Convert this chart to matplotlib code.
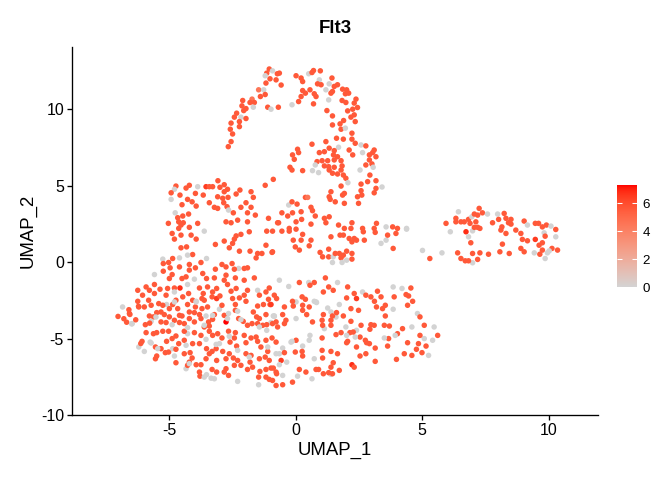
import numpy as np
import matplotlib
matplotlib.use("Agg")
import matplotlib.pyplot as plt
from matplotlib.colors import ListedColormap, Normalize

plt.rcParams["font.family"] = ["Liberation Sans", "DejaVu Sans"]
plt.rcParams["axes.unicode_minus"] = False

upper_arc = [
    (-1.05, 12.64, 5.6), (-1.15, 12.37, 5.6), (-1.21, 12.20, 0), (-0.92, 12.52, 0), (-0.73, 12.33, 5.6),
    (-1.02, 12.0, 5.6), (-0.78, 11.93, 5.6), (-1.18, 11.72, 5.6), (-1.47, 11.28, 4.5), (-1.27, 11.28, 0),
    (-1.21, 10.97, 5.6), (-1.40, 10.84, 5.6), (-1.73, 10.67, 4.5), (-1.64, 10.45, 5.6), (-1.81, 10.45, 5.6),
    (-2.10, 10.58, 5.6), (-2.13, 10.23, 5.6), (-1.97, 10.05, 5.6), (-1.68, 10.14, 0), (-2.06, 9.92, 5.6),
    (-2.34, 9.75, 5.6), (-1.11, 10.14, 5.6), (-0.98, 10.01, 0), (-0.69, 10.14, 5.6), (-2.17, 9.49, 0),
    (-2.43, 9.49, 5.6), (-2.23, 9.2, 5.6), (-1.97, 9.4, 5.6), (-2.56, 9.1, 5.6), (-2.23, 8.87, 5.6),
    (-2.59, 8.7, 5.6), (-2.50, 8.39, 5.6), (-2.56, 7.89, 5.6), (-2.67, 7.56, 5.6),
    (-0.65, 12.37, 5.6), (-0.58, 11.59, 5.6), (0.01, 12.20, 5.6), (0.21, 12.05, 5.6), (0.27, 11.82, 5.6),
    (0.51, 12.33, 0), (0.64, 12.41, 5.6), (0.70, 12.54, 5.6), (0.97, 12.52, 5.6), (1.43, 12.05, 5.6),
    (0.93, 11.93, 0), (0.86, 11.67, 5.6), (1.0, 11.61, 5.6), (1.32, 11.67, 0), (1.52, 11.50, 5.6),
    (1.65, 11.61, 5.6), (1.85, 11.32, 5.6), (2.01, 11.28, 5.6), (1.19, 11.28, 0), (1.45, 11.17, 5.6),
    (1.39, 11.06, 5.6), (1.96, 11.02, 5.6), (2.09, 11.06, 5.6), (0.27, 11.23, 5.6), (0.38, 11.06, 5.6),
    (0.56, 11.28, 5.6), (0.21, 10.84, 5.6), (0.73, 11.02, 5.6), (0.80, 10.84, 5.6), (0.11, 10.51, 5.6),
    (-0.15, 10.30, 0), (0.70, 10.36, 5.6), (1.30, 10.62, 0), (1.83, 10.58, 5.6), (1.98, 10.45, 5.6),
    (2.38, 10.67, 5.6), (2.31, 10.41, 5.6), (2.44, 10.12, 5.6), (2.25, 10.01, 5.6), (2.05, 9.90, 5.6),
    (1.23, 9.92, 5.6), (2.31, 9.64, 5.6), (2.18, 9.49, 5.6), (2.35, 9.2, 5.6), (1.45, 9.57, 5.6),
    (1.89, 9.27, 5.6), (1.75, 9.05, 5.6), (1.45, 8.98, 5.6), (1.79, 8.70, 5.6), (1.96, 8.77, 0),
    (2.22, 8.44, 5.6), (1.88, 8.05, 5.6), (2.22, 8.05, 5.6), (1.61, 8.11, 5.6), (2.35, 7.78, 5.6),
]

mid_upper = [
    (1.19, 7.89, 5.6), (0.64, 7.72, 5.6), (2.58, 7.67, 0), (2.77, 7.61, 5.6), (2.11, 7.34, 5.6),
    (1.69, 7.52, 0), (1.32, 7.46, 5.6), (1.52, 7.30, 5.6), (1.13, 7.23, 5.6), (0.93, 7.17, 5.6),
    (0.07, 7.39, 5.6), (0.11, 7.17, 5.6), (-0.13, 7.02, 5.6), (-0.06, 6.73, 5.6), (2.25, 7.02, 5.6),
    (2.64, 7.17, 0), (2.91, 7.02, 5.6), (3.10, 7.34, 5.6), (3.04, 7.17, 5.6), (3.17, 6.9, 5.6),
    (2.91, 6.69, 5.6), (3.01, 6.43, 5.6), (2.77, 6.36, 5.6), (3.06, 6.21, 0), (2.54, 6.03, 0),
    (2.93, 5.70, 5.6), (3.17, 5.33, 5.6), (2.84, 5.27, 5.6), (2.58, 5.11, 5.6), (3.17, 4.83, 5.6),
    (3.41, 4.92, 0), (3.10, 4.54, 5.6), (2.58, 4.68, 5.6), (2.44, 4.28, 5.6), (2.61, 4.39, 5.6),
    (2.48, 3.85, 5.6), (1.49, 7.02, 5.6), (1.79, 6.64, 5.6), (1.65, 6.9, 5.6), (1.52, 6.69, 5.6),
    (1.26, 6.64, 5.6), (1.13, 6.30, 5.6), (1.30, 6.25, 5.6), (1.52, 6.21, 5.6), (1.04, 6.64, 5.6),
    (0.84, 6.58, 5.6), (0.77, 6.36, 0), (0.66, 5.99, 0), (0.90, 5.86, 0), (1.32, 6.03, 5.6),
    (1.45, 5.82, 5.6), (1.65, 5.77, 5.6), (1.79, 6.03, 5.6), (1.83, 6.30, 5.6), (1.88, 5.70, 5.6),
    (1.98, 5.49, 5.6), (2.06, 5.20, 0), (1.79, 4.98, 5.6), (1.92, 4.50, 5.6), (1.85, 4.39, 5.6),
    (1.39, 4.61, 5.6), (1.32, 4.28, 5.6), (1.36, 4.11, 5.6), (1.56, 3.95, 5.6), (1.92, 3.85, 5.6),
    (-0.23, 6.21, 5.6), (-0.15, 6.03, 5.6), (0.27, 5.99, 5.6), (-0.89, 5.42, 5.6), (-1.21, 5.03, 5.6),
]

center_band = [
    (0.38, 4.24, 5.6), (0.47, 4.24, 4.5), (-0.28, 3.74, 0), (-0.15, 3.95, 5.6), (0.05, 3.80, 5.6),
    (0.60, 3.59, 5.6), (0.66, 3.37, 5.6), (-0.55, 3.23, 5.6), (-0.32, 3.02, 5.6), (-0.13, 3.23, 5.6),
    (0.21, 3.30, 5.6), (0.01, 2.64, 5.6), (0.23, 2.80, 5.6), (-0.68, 2.58, 5.6), (0.77, 3.02, 5.6),
    (1.13, 2.87, 5.6), (1.32, 2.97, 5.6), (1.19, 2.58, 5.6), (0.60, 2.49, 5.6), (-0.26, 2.21, 5.6),
    (1.69, 2.43, 5.6), (2.22, 2.58, 5.6), (1.92, 2.21, 5.6), (2.18, 2.21, 5.6), (2.64, 2.21, 5.6),
    (3.19, 2.54, 5.6), (3.10, 2.21, 5.6), (3.57, 2.31, 0), (3.83, 2.31, 5.6), (4.02, 2.21, 5.6),
    (4.38, 2.21, 0), (-0.92, 2.03, 5.6), (-0.55, 2.03, 5.6), (-0.26, 2.03, 5.6), (0.01, 2.16, 5.6),
    (0.27, 1.82, 5.6), (-0.10, 1.44, 5.6), (0.21, 1.44, 5.6), (-0.02, 1.0, 5.6), (0.14, 0.79, 5.6),
    (0.53, 1.07, 5.6), (0.60, 1.44, 5.6), (-0.94, 0.64, 5.6), (0.96, 0.64, 5.6), (1.06, 0.35, 5.6),
    (1.30, 0.85, 5.6), (1.30, 0.35, 5.6), (1.48, 0.35, 0), (1.56, 0.57, 5.6), (1.72, 0.57, 5.6),
    (1.79, 0.28, 5.6), (1.88, 0.46, 5.6), (2.01, 0.13, 0), (1.83, -0.02, 0), (1.45, -0.02, 0),
    (2.01, 0.72, 5.6), (2.22, 0.57, 5.6), (2.22, 0.20, 5.6), (1.39, 1.66, 5.6), (1.75, 1.77, 5.6),
    (1.88, 1.77, 5.6), (2.11, 1.55, 5.6), (2.31, 1.55, 5.6), (2.22, 1.33, 5.6), (2.40, 1.44, 5.6),
    (2.71, 1.44, 5.6), (2.67, 1.99, 5.6), (3.14, 1.95, 5.6), (3.37, 1.23, 0), (3.57, 1.44, 0),
    (3.63, 1.77, 5.6), (3.96, 1.88, 5.6), (4.38, 2.16, 0), (3.85, 0.90, 5.6), (5.01, 0.77, 0),
    (5.30, 0.24, 5.6),
]

left_top = [
    (-3.08, 5.33, 5.6), (-3.55, 4.94, 6.5), (-3.42, 4.94, 5.6), (-3.29, 4.94, 5.6), (-3.88, 4.94, 0),
    (-4.21, 5.03, 5.6), (-4.34, 4.85, 5.6), (-4.74, 4.98, 5.6), (-4.80, 4.77, 0), (-4.93, 4.54, 5.6),
    (-4.93, 4.11, 0), (-4.58, 4.39, 5.6), (-3.97, 4.50, 5.6), (-3.66, 4.39, 5.6), (-4.28, 4.11, 5.6),
    (-4.10, 3.95, 5.6), (-3.94, 3.67, 5.6), (-4.50, 3.76, 5.6), (-3.42, 3.89, 5.6), (-3.0, 4.9, 5.6),
    (-2.83, 5.07, 5.6), (-2.70, 4.77, 5.6), (-2.83, 4.61, 5.6), (-3.09, 4.28, 5.6), (-2.89, 4.18, 5.6),
    (-2.68, 4.24, 5.6), (-2.85, 3.89, 5.6), (-2.72, 3.63, 5.6), (-3.09, 3.52, 5.6), (-3.22, 3.59, 5.6),
    (-2.36, 4.46, 5.6), (-2.21, 4.72, 5.6), (-1.77, 4.61, 5.6), (-1.68, 4.24, 5.6), (-1.97, 3.89, 5.6),
    (-1.77, 3.59, 5.6), (-2.17, 3.59, 5.6), (-1.91, 3.23, 5.6), (-1.60, 3.08, 5.6), (-2.66, 3.41, 0),
    (-2.47, 3.23, 5.6), (-2.76, 2.64, 5.6), (-2.56, 2.58, 5.6), (-2.30, 2.75, 5.6), (-1.91, 2.64, 5.6),
    (-1.08, 2.87, 5.6), (-0.72, 2.58, 5.6), (-4.77, 3.23, 0), (-4.47, 3.02, 5.6), (-4.67, 2.91, 5.6),
    (-4.24, 3.15, 5.6), (-4.45, 2.58, 5.6), (-4.63, 2.64, 5.6), (-4.54, 2.43, 5.6), (-5.04, 2.54, 5.6),
    (-4.21, 2.28, 5.6), (-3.88, 2.54, 5.6), (-4.63, 2.21, 5.6), (-4.89, 1.88, 5.6), (-4.54, 1.77, 5.6),
    (-4.80, 1.51, 5.6), (-4.14, 1.77, 5.6), (-3.94, 1.51, 5.6), (-3.62, 2.03, 0), (-4.54, 0.94, 5.6),
    (-4.32, 1.0, 5.6), (-4.08, 0.50, 5.6), (-4.28, 0.46, 0), (-4.60, 0.28, 0), (-4.87, 0.24, 5.6),
    (-5.26, 0.20, 0), (-5.03, -0.02, 5.6), (-4.97, -0.37, 5.6), (-5.24, -0.09, 5.6), (-3.53, 0.24, 0),
    (-3.75, -0.02, 5.6), (-4.21, -0.15, 5.6), (-3.97, -0.37, 5.6), (-4.60, -0.31, 5.6), (-4.21, -0.52, 5.6),
    (-3.18, 1.16, 5.6), (-2.83, 1.38, 5.6), (-2.50, 1.23, 5.6), (-2.23, 0.72, 5.6), (-2.43, 1.51, 5.6),
    (-2.36, 1.72, 5.6), (-2.17, 1.82, 5.6), (-2.63, 0.94, 5.6), (-1.81, 0.72, 5.6), (-1.51, 0.57, 5.6),
    (-1.34, 0.57, 5.6), (-1.57, 0.28, 5.6), (-1.18, 1.11, 5.6), (-0.92, 0.68, 5.6), (-1.84, 1.99, 5.6),
    (-1.15, 2.03, 5.6),
]

lower_left = [
    (-4.34, -0.96, 5.6), (-4.01, -1.11, 0), (-4.28, -1.46, 0), (-4.50, -1.07, 5.6), (-5.0, -1.07, 5.6),
    (-4.89, -0.81, 5.6), (-5.24, -0.59, 5.6), (-5.59, -0.81, 0), (-5.92, -1.62, 5.6), (-5.59, -1.46, 5.6),
    (-5.79, -1.84, 5.6), (-6.06, -2.16, 5.6), (-6.25, -1.84, 5.6), (-6.25, -2.56, 5.6), (-6.21, -2.93, 5.6),
    (-6.58, -3.36, 5.6), (-6.47, -4.02, 0), (-5.37, -1.77, 5.6), (-5.07, -1.72, 5.6), (-4.80, -1.69, 5.6),
    (-4.58, -1.69, 6.8), (-5.13, -2.16, 5.6), (-5.59, -2.05, 5.6), (-5.42, -2.71, 5.6), (-5.82, -2.49, 5.6),
    (-5.11, -2.77, 0), (-4.74, -2.49, 5.6), (-4.47, -2.27, 5.6), (-4.24, -2.05, 5.6), (-4.80, -1.95, 0),
    (-4.08, -2.49, 5.6), (-3.94, -2.56, 0), (-4.28, -2.77, 5.6), (-3.81, -1.69, 5.6), (-3.66, -2.05, 5.6),
    (-3.71, -2.38, 5.6), (-3.49, -1.62, 5.6), (-3.29, -1.95, 5.6), (-3.31, -2.27, 5.6), (-3.13, -2.38, 6.5),
    (-3.49, -2.93, 5.6), (-3.71, -3.04, 5.6), (-3.81, -3.43, 5.6), (-3.75, -3.69, 5.6), (-3.55, -3.52, 0),
    (-3.22, -3.43, 5.6), (-3.29, -3.74, 5.6), (-3.45, -3.91, 5.6), (-3.02, -3.08, 0), (-2.83, -3.48, 5.6),
    (-2.66, -3.36, 0), (-2.76, -3.91, 7.3), (-2.92, -2.82, 5.6), (-3.0, -2.21, 5.6), (-2.83, -1.18, 5.6),
    (-2.92, -0.15, 5.6), (-2.76, -0.31, 5.6), (-2.52, -0.09, 5.6), (-3.18, -0.46, 5.6), (-3.22, -1.03, 5.6),
    (-3.53, -1.07, 5.6), (-3.68, -0.74, 5.6), (-3.13, -1.72, 5.6), (-2.70, -1.46, 5.6), (-2.76, -0.85, 5.6),
    (-2.39, -1.03, 5.6), (-2.26, -0.41, 0), (-2.43, -0.46, 5.6), (-2.04, -0.41, 5.6), (-1.91, -0.37, 5.6),
    (-1.64, -1.03, 5.6), (-2.04, -1.18, 5.6), (-2.56, -1.90, 5.6), (-2.36, -1.72, 5.6), (-2.50, -2.38, 5.6),
    (-2.23, -2.34, 5.6), (-2.04, -2.16, 5.6), (-1.97, -2.56, 5.6), (-2.39, -2.77, 5.6), (-2.39, -3.15, 5.6),
    (-1.91, -1.84, 5.6), (-1.51, -1.84, 0), (-1.44, -2.16, 5.6), (-1.18, -1.95, 5.6), (-1.02, -2.77, 5.6),
    (-1.08, -2.43, 5.6), (-1.28, -2.77, 5.6), (-1.51, -2.87, 5.6), (-1.68, -3.26, 5.6), (-1.55, -3.58, 5.6),
    (-1.44, -3.69, 5.6), (-1.18, -3.43, 5.6), (-0.89, -3.52, 0), (-0.78, -3.91, 5.6), (-0.98, -3.95, 0),
    (-1.15, -4.09, 5.6), (-1.31, -4.13, 5.6), (-1.51, -4.02, 5.6), (-1.73, -4.02, 5.6), (-1.91, -4.13, 5.6),
    (-2.08, -3.87, 5.6), (-2.30, -3.21, 0), (-2.26, -3.69, 5.6), (-2.66, -4.52, 5.6), (-2.39, -4.61, 5.6),
    (-2.43, -4.96, 5.6), (-2.04, -4.79, 5.6), (-1.97, -5.27, 5.6), (-1.77, -4.96, 5.6), (-1.57, -4.90, 5.6),
    (-1.51, -5.18, 5.6), (-1.38, -5.55, 5.6), (-1.18, -5.11, 5.6), (-0.94, -4.96, 5.6), (-0.78, -5.23, 5.6),
    (-0.78, -5.99, 0), (-1.11, -5.84, 5.6), (-1.21, -6.21, 5.6), (-1.44, -6.32, 5.6), (-1.05, -6.43, 5.6),
    (-0.89, -6.93, 5.6), (-1.18, -7.02, 5.6), (-1.42, -7.15, 5.6), (-1.47, -7.52, 5.6), (-1.18, -7.52, 5.6),
    (-1.05, -7.67, 5.6), (-1.47, -8.02, 0), (-0.92, -7.74, 5.6), (-2.30, -7.80, 0), (-1.91, -7.02, 5.6),
    (-1.81, -6.54, 5.6), (-1.71, -6.87, 5.6), (-2.17, -6.75, 5.6), (-2.43, -6.75, 5.6), (-2.76, -6.97, 5.6),
    (-2.83, -7.19, 5.6), (-2.66, -7.41, 5.6), (-3.13, -7.19, 5.6), (-3.31, -7.02, 5.6), (-3.53, -7.36, 0),
    (-3.35, -7.59, 0), (-3.81, -7.19, 5.6), (-3.79, -7.46, 5.6), (-3.94, -6.71, 5.6), (-3.75, -6.71, 5.6),
    (-3.55, -6.32, 5.6), (-3.42, -5.99, 5.6), (-3.53, -5.66, 5.6), (-3.13, -6.43, 5.6), (-3.15, -5.66, 5.6),
    (-3.02, -5.33, 0), (-3.31, -5.84, 5.6), (-2.89, -5.84, 5.6), (-2.76, -6.32, 5.6), (-2.92, -4.96, 5.6),
    (-3.09, -4.68, 5.6), (-3.29, -4.79, 5.6), (-3.55, -5.05, 0), (-3.75, -4.79, 5.6), (-3.81, -5.33, 5.6),
    (-4.01, -4.61, 5.6), (-4.28, -4.68, 0), (-4.41, -4.52, 5.6), (-4.41, -5.11, 5.6), (-4.08, -5.33, 5.6),
    (-4.63, -5.33, 5.6), (-4.74, -4.83, 5.6), (-4.89, -5.0, 5.6), (-5.11, -5.18, 5.6), (-5.03, -4.52, 5.6),
    (-5.26, -4.52, 5.6), (-5.50, -4.61, 5.6), (-5.63, -4.68, 5.6), (-5.92, -4.61, 5.6), (-6.08, -5.18, 5.6),
    (-5.76, -5.23, 0), (-6.21, -5.55, 0), (-5.99, -5.84, 0), (-5.55, -5.55, 5.6), (-5.33, -5.66, 5.6),
    (-5.16, -5.92, 5.6), (-5.50, -6.14, 5.6), (-5.55, -6.32, 5.6), (-5.03, -5.88, 5.6), (-4.87, -5.66, 0),
    (-4.80, -6.14, 0), (-4.74, -6.58, 5.6), (-4.74, -5.70, 5.6), (-4.41, -5.99, 5.6), (-4.18, -5.92, 5.6),
    (-4.21, -6.54, 5.6), (-4.10, -6.27, 5.6), (-4.34, -6.97, 0), (-4.28, -6.75, 5.6), (-4.50, -3.52, 5.6),
    (-4.41, -4.02, 5.6), (-4.60, -3.95, 5.6), (-4.80, -3.80, 5.6), (-5.0, -3.58, 5.6), (-5.20, -3.43, 5.6),
    (-5.50, -3.30, 5.6), (-5.63, -3.58, 5.6), (-5.79, -3.52, 5.6), (-5.95, -4.09, 5.6), (-5.72, -3.87, 0),
    (-5.33, -3.91, 5.6), (-5.13, -3.95, 5.6), (-4.89, -4.09, 0), (-4.87, -2.77, 5.6), (-4.67, -3.04, 5.6),
    (-4.21, -3.26, 5.6), (-4.01, -3.30, 5.6), (-3.97, -2.93, 5.6), (-4.21, -3.69, 5.6), (-4.01, -3.91, 5.6),
    (-4.60, -3.48, 5.6), (-5.0, -3.04, 5.6), (-5.26, -2.82, 5.6), (-5.33, -3.26, 5.6), (-5.72, -2.82, 5.6),
    (-5.99, -2.93, 5.6), (-3.62, -2.49, 5.6), (-2.30, -6.43, 5.6), (-1.77, -6.10, 5.6), (-1.97, -5.99, 5.6),
    (-2.63, -5.99, 5.6), (-2.47, -6.27, 5.6), (-0.78, -7.19, 5.6), (-2.34, -5.49, 5.6), (-2.60, -5.23, 5.6),
    (-2.30, -5.77, 0), (-3.42, -4.18, 5.6), (-3.62, -4.24, 5.6), (-3.42, -4.52, 5.6),
    (-7.03, -3.55, 5.6), (-6.80, -3.70, 5.6), (-6.85, -2.93, 0), (-6.60, -3.11, 5.6), (-6.69, -3.93, 5.6),
    (-6.49, -4.04, 0), (-6.56, -3.42, 5.6), (-6.33, -3.77, 5.6), (-6.13, -5.32, 5.6), (-5.78, -3.99, 5.6),
    (-6.22, -2.89, 5.6),
]

lower_right = [
    (-0.65, -1.18, 0), (0.14, -1.33, 5.6), (-0.28, -1.59, 0), (0.51, -1.33, 0), (0.56, -1.51, 5.6),
    (0.73, -1.33, 5.6), (1.17, -1.03, 5.6), (1.30, -1.62, 5.6), (1.48, -1.84, 5.6), (1.09, -1.95, 5.6),
    (1.65, -1.33, 0), (2.05, -1.62, 5.6), (2.31, -2.05, 5.6), (2.40, -2.38, 6.5), (2.64, -1.95, 0),
    (2.77, -2.16, 5.6), (2.97, -2.27, 5.6), (3.23, -1.90, 5.6), (3.37, -2.27, 5.6), (3.85, -1.62, 0),
    (3.89, -2.27, 5.6), (4.20, -1.72, 0), (4.36, -2.12, 5.6), (4.55, -1.69, 5.6), (4.46, -2.21, 5.6),
    (4.62, -2.56, 5.6), (4.42, -2.82, 5.6), (-1.05, -1.69, 5.6), (-0.85, -2.16, 5.6), (-0.76, -2.38, 5.6),
    (-0.98, -2.77, 6.5), (-0.45, -2.93, 5.6), (-0.13, -2.56, 5.6), (-0.10, -2.87, 5.6), (0.25, -2.27, 5.6),
    (0.38, -2.43, 5.6), (0.73, -2.56, 0), (0.82, -2.64, 0), (0.53, -2.93, 5.6), (0.27, -3.15, 5.6),
    (0.27, -2.82, 5.6), (1.26, -3.0, 0), (1.72, -2.77, 0), (2.01, -2.34, 5.6), (2.18, -3.04, 5.6),
    (2.48, -3.15, 5.6), (3.11, -2.56, 5.6), (3.19, -2.93, 5.6), (3.43, -3.04, 5.6), (3.54, -2.82, 5.6),
    (3.85, -3.08, 0), (3.54, -3.52, 5.6), (-0.85, -3.52, 0), (-0.52, -3.43, 5.6), (-0.92, -4.02, 5.6),
    (-0.72, -4.24, 5.6), (-0.45, -4.02, 5.6), (-0.39, -3.80, 5.6), (0.43, -3.43, 5.6), (0.66, -3.91, 5.6),
    (1.04, -3.80, 5.6), (1.06, -4.13, 5.6), (1.39, -4.13, 5.6), (1.39, -3.80, 5.6), (1.45, -3.52, 5.6),
    (1.09, -3.43, 5.6), (1.61, -3.30, 5.6), (1.88, -3.52, 5.6), (2.18, -3.87, 5.6), (2.58, -4.13, 5.6),
    (2.97, -4.09, 5.6), (3.10, -4.13, 5.6), (2.93, -4.39, 5.6), (3.50, -4.13, 5.6), (3.70, -4.18, 5.6),
    (4.02, -4.68, 5.6), (4.22, -4.35, 5.6), (4.59, -4.24, 0), (4.81, -3.36, 0), (4.91, -3.58, 5.6),
    (5.08, -4.13, 5.6), (5.47, -4.24, 0), (5.61, -4.79, 5.6), (5.41, -5.11, 0), (5.08, -5.0, 0),
    (4.91, -4.79, 5.6), (5.15, -5.49, 5.6), (5.25, -6.10, 0), (4.99, -5.92, 5.6), (4.77, -5.70, 5.6),
    (4.59, -6.10, 5.6), (4.42, -5.27, 5.6), (4.29, -5.99, 5.6), (3.98, -6.36, 5.6), (3.93, -4.79, 0),
    (3.67, -5.0, 5.6), (3.63, -5.49, 5.6), (3.50, -4.96, 0), (3.14, -5.62, 5.6), (2.80, -5.27, 5.6),
    (2.75, -5.11, 5.6), (2.54, -4.90, 5.6), (2.40, -4.46, 0), (2.35, -4.90, 0), (2.27, -4.57, 5.6),
    (2.14, -4.61, 5.6), (2.01, -4.79, 0), (2.05, -5.18, 5.6), (1.79, -4.61, 5.6), (1.59, -4.74, 5.6),
    (1.04, -4.96, 5.6), (0.56, -4.79, 0), (0.53, -5.11, 0), (0.27, -5.49, 0), (0.01, -5.11, 5.6),
    (-0.15, -5.18, 0), (-0.52, -5.62, 0), (-0.65, -5.99, 0), (-0.45, -5.92, 5.6), (-0.02, -5.88, 5.6),
    (0.25, -5.84, 5.6), (0.27, -6.14, 5.6), (-0.36, -6.54, 0), (-0.58, -6.43, 6.5), (-0.65, -6.71, 0),
    (-0.98, -6.93, 5.6), (-0.76, -7.30, 5.6), (-0.52, -8.02, 5.6), (-0.78, -8.07, 5.6), (-0.13, -7.85, 5.6),
    (0.07, -7.46, 0), (0.14, -7.02, 5.6), (0.40, -7.19, 5.6), (0.64, -7.63, 0), (0.80, -7.02, 5.6),
    (0.90, -7.02, 5.6), (1.09, -7.30, 5.6), (1.30, -7.23, 5.6), (1.45, -7.30, 5.6), (1.72, -7.08, 5.6),
    (1.48, -6.58, 5.6), (1.39, -6.87, 5.6), (1.06, -6.27, 5.6), (1.04, -5.77, 5.6), (1.39, -5.84, 5.6),
    (1.65, -5.99, 5.6), (0.73, -6.32, 0), (2.01, -5.27, 5.6), (2.22, -6.71, 6.8), (2.31, -6.87, 5.6),
    (2.77, -5.99, 5.6), (3.14, -6.49, 5.6), (2.40, -5.55, 5.6), (2.54, -6.14, 5.6), (2.91, -5.33, 5.6),
    (4.85, -5.33, 5.6),
]

# unexpressing cells spotted on a closer look at the lower band
lower_grey = [
    (-4.80, -2.60, 0), (-3.94, -2.60, 0), (-3.29, -3.48, 0), (-2.70, -3.69, 0), (-2.17, -3.76, 0),
    (-1.44, -4.24, 0), (-0.85, -3.54, 0), (-1.15, -4.46, 0), (0.01, -2.60, 0), (0.80, -2.60, 0),
    (1.39, -3.26, 0), (1.59, -3.59, 0), (1.13, -4.35, 0), (1.98, -4.24, 0), (-0.19, -5.23, 0),
    (-1.84, -6.21, 0), (-1.11, -5.55, 0), (-3.15, -5.38, 0), (-4.21, -6.64, 0), (-3.62, -7.52, 0),
    (-3.22, -7.63, 0), (-0.52, -7.41, 0), (1.39, -7.34, 0), (-5.53, -3.59, 0), (-5.72, -5.29, 0),
    (-5.46, -5.66, 0), (-4.28, -4.28, 0), (-4.34, -5.44, 0), (-3.62, -4.13, 0), (-2.63, -4.85, 0),
    (0.01, -3.69, 0),
]

right_island = [
    (5.78, 0.61, 0), (5.94, 2.54, 5.6), (6.11, 1.99, 0), (6.33, 2.87, 5.6), (6.43, 3.30, 0),
    (6.33, 2.64, 5.6), (6.53, 2.64, 5.6), (6.66, 2.64, 5.6), (6.83, 2.80, 5.6), (6.89, 2.54, 5.6),
    (6.96, 2.97, 0), (6.73, 1.99, 6.8), (6.83, 1.66, 0), (6.92, 1.27, 5.6), (6.99, 2.05, 0),
    (7.06, 2.28, 5.6), (7.19, 2.28, 5.6), (7.28, 2.21, 5.6), (7.12, 2.64, 5.6), (7.06, 3.15, 5.6),
    (7.19, 3.08, 5.6), (7.25, 3.52, 5.6), (7.38, 3.23, 5.6), (7.58, 3.15, 0), (7.78, 2.58, 5.6),
    (7.98, 3.15, 0), (8.02, 2.80, 5.6), (8.24, 3.19, 5.6), (8.31, 2.87, 5.6), (8.41, 2.58, 5.6),
    (8.51, 2.80, 5.6), (8.51, 2.49, 5.6), (8.15, 2.31, 5.6), (8.11, 2.10, 5.6), (8.31, 1.88, 5.6),
    (8.70, 2.10, 5.6), (8.90, 1.88, 5.6), (9.03, 2.69, 5.6), (9.16, 2.43, 0), (9.47, 2.54, 5.6),
    (9.60, 2.54, 5.6), (9.75, 2.31, 5.6), (9.91, 2.43, 5.6), (10.09, 2.36, 0), (10.28, 2.14, 5.6),
    (9.82, 1.92, 0), (9.86, 1.70, 5.6), (10.28, 1.66, 0), (8.96, 1.49, 5.6), (9.16, 1.40, 5.6),
    (9.47, 1.49, 6.5), (9.75, 1.27, 5.6), (9.62, 1.11, 5.6), (10.13, 0.90, 5.6), (10.35, 0.79, 5.6),
    (10.02, 0.74, 0), (9.95, 0.61, 0), (9.86, 0.24, 0), (9.65, 0.52, 5.6), (9.75, 0.79, 5.6),
    (9.43, 0.61, 0), (9.03, 0.68, 5.6), (8.90, 0.90, 5.6), (8.17, 1.18, 5.6), (8.07, 0.68, 5.6),
    (8.44, 0.57, 5.6), (7.62, 0.52, 5.6), (7.28, 0.61, 5.6), (6.99, 0.57, 5.6), (7.19, 0.18, 5.6),
    (6.99, -0.04, 0), (6.83, 0.09, 5.6), (6.70, 0.09, 5.6), (6.53, 0.24, 5.6), (6.40, 0.61, 5.6),
]

cbar_ticks = [0, 2, 4, 6]

cells = np.array(upper_arc + mid_upper + center_band + left_top + lower_left
                 + lower_grey + lower_right + right_island)
umap_1 = cells[:, 0]
umap_2 = cells[:, 1]
flt3 = cells[:, 2]


# ggplot interpolates the gradient in CIELAB, so do the same
def to_lab(rgb):
    c = np.asarray(rgb, float) / 255
    c = np.where(c > 0.04045, ((c + 0.055) / 1.055) ** 2.4, c / 12.92)
    m = np.array([[0.4124, 0.3576, 0.1805], [0.2126, 0.7152, 0.0722], [0.0193, 0.1192, 0.9505]])
    xyz = m @ c / np.array([0.95047, 1.0, 1.08883])
    f = np.where(xyz > 0.008856, np.cbrt(xyz), 7.787 * xyz + 16 / 116)
    return np.array([116 * f[1] - 16, 500 * (f[0] - f[1]), 200 * (f[1] - f[2])])


def from_lab(lab):
    fy = (lab[0] + 16) / 116
    f = np.array([fy + lab[1] / 500, fy, fy - lab[2] / 200])
    xyz = np.where(f ** 3 > 0.008856, f ** 3, (f - 16 / 116) / 7.787) * np.array([0.95047, 1.0, 1.08883])
    m = np.array([[3.2406, -1.5372, -0.4986], [-0.9689, 1.8758, 0.0415], [0.0557, -0.2040, 1.0570]])
    c = m @ xyz
    c = np.where(c > 0.0031308, 1.055 * np.clip(c, 0, None) ** (1 / 2.4) - 0.055, 12.92 * c)
    return np.clip(c, 0, 1)


lo = to_lab((211, 211, 211))
hi = to_lab((255, 0, 0))
cmap = ListedColormap([from_lab(lo + t * (hi - lo)) for t in np.linspace(0, 1, 256)])
norm = Normalize(vmin=0, vmax=flt3.max())

fig = plt.figure(figsize=(7, 5), dpi=96)
ax = fig.add_axes([72 / 672, 1 - 415 / 480, (598 - 72) / 672, (415 - 46.7) / 480])
sc = ax.scatter(umap_1, umap_2, c=flt3, cmap=cmap, norm=norm, s=17, linewidths=0)

ax.set_xlim(-8.85, 11.95)
ax.set_ylim(-10.0, 14.1)
ax.set_xticks([-5, 0, 5, 10])
ax.set_yticks([-10, -5, 0, 5, 10])
for side in ["top", "right"]:
    ax.spines[side].set_visible(False)
for side in ["left", "bottom"]:
    ax.spines[side].set_linewidth(1.0)
ax.tick_params(length=4, width=1.0, labelsize=12, pad=2)
ax.set_xlabel("UMAP_1", fontsize=14, labelpad=3)
ax.set_ylabel("UMAP_2", fontsize=14, labelpad=3)
ax.set_title("Flt3", fontsize=14, fontweight="bold", pad=10)

cax = fig.add_axes([617 / 672, 1 - 287 / 480, 20 / 672, 102 / 480])
cb = fig.colorbar(sc, cax=cax, ticks=cbar_ticks)
cb.outline.set_visible(False)
cax.tick_params(direction="in", color="white", length=4, width=0.8, left=True, right=True,
                labelsize=10, pad=4)

fig.savefig("out.png", dpi=96)
